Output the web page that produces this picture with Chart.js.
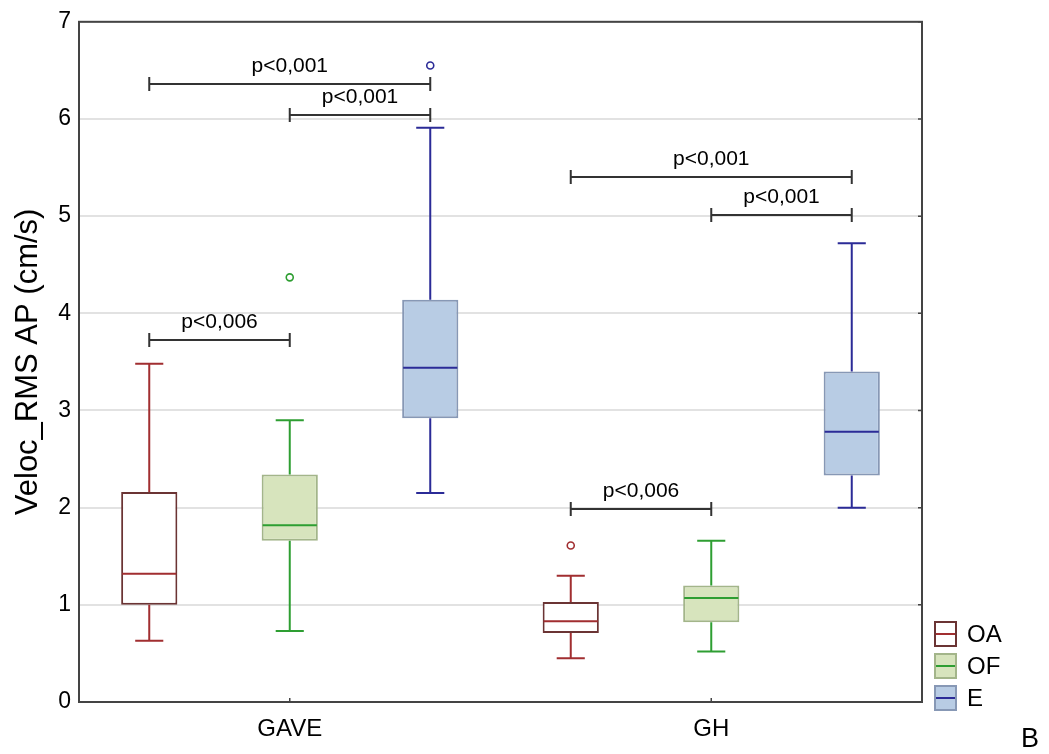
<!DOCTYPE html>
<html>
<head>
<meta charset="utf-8">
<script src="https://cdn.jsdelivr.net/npm/chart.js@4.4.1/dist/chart.umd.min.js"></script>
<style>
  html, body { margin: 0; padding: 0; background: #fff; }
  #wrap { width: 1049px; height: 754px; position: relative; }
</style>
</head>
<body>
<div id="wrap"><canvas id="boxChart"></canvas></div>
<script>
// categories and series
const groups = ['GAVE', 'GH'];
const seriesNames = ['OA', 'OF', 'E'];

// box statistics, one row per series, one value per group
const q1Values = [[1.00, 0.71], [1.66, 0.82], [2.92, 2.33]];
const medianValues = [[1.32, 0.83], [1.82, 1.07], [3.44, 2.78]];
const q3Values = [[2.16, 1.03], [2.34, 1.20], [4.14, 3.40]];
const lowWhisker = [[0.63, 0.45], [0.73, 0.52], [2.15, 2.00]];
const highWhisker = [[3.48, 1.30], [2.90, 1.66], [5.91, 4.72]];
const outlierValues = [[[], [1.61]], [[4.37], []], [[6.55], []]];

// significance brackets
const bracketGroup = [0, 0, 0, 1, 1, 1];
const bracketFrom = [0, 1, 0, 0, 1, 0];
const bracketTo = [2, 2, 1, 2, 2, 1];
const bracketLevel = [6.36, 6.04, 3.73, 5.40, 5.01, 1.99];
const bracketLabel = ['p<0,001', 'p<0,001', 'p<0,006', 'p<0,001', 'p<0,001', 'p<0,006'];

const yTicks = [0, 1, 2, 3, 4, 5, 6, 7];

const FONT = "'Liberation Sans', Arial, sans-serif";
const fills = ['#ffffff', '#d7e4bd', '#b8cce4'];
const boxEdges = ['#6b3434', '#a3b58a', '#8798b5'];
const lineColors = ['#a12e30', '#2e9e32', '#2b2b97'];

const boxPlugin = {
    id: 'boxExtras',
    afterDatasetsDraw(chart) {
        const ctx = chart.ctx;
        const y = chart.scales.y;
        ctx.save();
        seriesNames.forEach((name, s) => {
            const meta = chart.getDatasetMeta(s);
            meta.data.forEach((bar, g) => {
                const cx = bar.x;
                const w = bar.width;
                ctx.strokeStyle = lineColors[s];
                ctx.lineWidth = 2;
                ctx.beginPath();
                // whiskers
                ctx.moveTo(cx, y.getPixelForValue(q3Values[s][g]));
                ctx.lineTo(cx, y.getPixelForValue(highWhisker[s][g]));
                ctx.moveTo(cx, y.getPixelForValue(q1Values[s][g]));
                ctx.lineTo(cx, y.getPixelForValue(lowWhisker[s][g]));
                // caps
                ctx.moveTo(cx - w / 4, y.getPixelForValue(highWhisker[s][g]));
                ctx.lineTo(cx + w / 4, y.getPixelForValue(highWhisker[s][g]));
                ctx.moveTo(cx - w / 4, y.getPixelForValue(lowWhisker[s][g]));
                ctx.lineTo(cx + w / 4, y.getPixelForValue(lowWhisker[s][g]));
                // median
                ctx.moveTo(cx - w / 2 + 1, y.getPixelForValue(medianValues[s][g]));
                ctx.lineTo(cx + w / 2 - 1, y.getPixelForValue(medianValues[s][g]));
                ctx.stroke();
                // outliers
                outlierValues[s][g].forEach(v => {
                    ctx.beginPath();
                    ctx.arc(cx, y.getPixelForValue(v), 3.5, 0, Math.PI * 2);
                    ctx.lineWidth = 1.6;
                    ctx.stroke();
                });
            });
        });

        // brackets
        ctx.strokeStyle = '#333333';
        ctx.fillStyle = '#000000';
        ctx.font = '21px ' + FONT;
        ctx.textAlign = 'center';
        ctx.textBaseline = 'middle';
        bracketLabel.forEach((label, i) => {
            const a = chart.getDatasetMeta(bracketFrom[i]).data[bracketGroup[i]].x;
            const b = chart.getDatasetMeta(bracketTo[i]).data[bracketGroup[i]].x;
            const py = Math.round(y.getPixelForValue(bracketLevel[i]));
            ctx.lineWidth = 2;
            ctx.beginPath();
            ctx.moveTo(a, py);
            ctx.lineTo(b, py);
            ctx.moveTo(a, py - 7);
            ctx.lineTo(a, py + 7);
            ctx.moveTo(b, py - 7);
            ctx.lineTo(b, py + 7);
            ctx.stroke();
            ctx.fillText(label, (a + b) / 2, py - 18);
        });
        ctx.restore();
    },
    afterDraw(chart) {
        const ctx = chart.ctx;
        const area = chart.chartArea;
        const x = chart.scales.x;
        const y = chart.scales.y;
        ctx.save();
        // frame
        ctx.strokeStyle = '#444444';
        ctx.lineWidth = 2;
        ctx.strokeRect(area.left, area.top, area.right - area.left, area.bottom - area.top);
        // inner ticks
        ctx.lineWidth = 1.5;
        ctx.beginPath();
        yTicks.forEach(v => {
            const py = y.getPixelForValue(v);
            ctx.moveTo(area.right - 4, py);
            ctx.lineTo(area.right, py);
        });
        groups.forEach((g, i) => {
            const px = x.getPixelForValue(i);
            ctx.moveTo(px, area.bottom - 4);
            ctx.lineTo(px, area.bottom);
        });
        ctx.stroke();

        // legend
        ctx.font = '24px ' + FONT;
        ctx.textAlign = 'left';
        ctx.textBaseline = 'middle';
        seriesNames.forEach((name, s) => {
            const top = 622 + s * 32;
            ctx.fillStyle = fills[s];
            ctx.fillRect(935, top, 21, 24);
            ctx.strokeStyle = boxEdges[s];
            ctx.lineWidth = 2;
            ctx.strokeRect(935, top, 21, 24);
            ctx.strokeStyle = lineColors[s];
            ctx.beginPath();
            ctx.moveTo(936, top + 12);
            ctx.lineTo(955, top + 12);
            ctx.stroke();
            ctx.fillStyle = '#000';
            ctx.fillText(name, 967, top + 13);
        });

        ctx.font = '27px ' + FONT;
        ctx.fillText('B', 1021, 740);
        ctx.restore();
    }
};

const datasets = seriesNames.map((name, s) => ({
    label: name,
    data: groups.map((g, i) => [q1Values[s][i], q3Values[s][i]]),
    backgroundColor: fills[s],
    borderColor: boxEdges[s],
    borderWidth: 2,
    borderSkipped: false,
    categoryPercentage: 1.0,
    barPercentage: 0.4
}));

new Chart(document.getElementById('boxChart'), {
    type: 'bar',
    data: { labels: groups, datasets: datasets },
    options: {
        responsive: true,
        maintainAspectRatio: false,
        animation: false,
        layout: { padding: { top: 17, right: 127, left: 0, bottom: 0 } },
        plugins: {
            legend: { display: false },
            tooltip: { enabled: false }
        },
        scales: {
            x: {
                grid: { display: false },
                border: { display: false },
                ticks: { color: '#000', font: { family: FONT, size: 24 }, padding: 5 },
                afterFit(scale) { scale.height = 52; }
            },
            y: {
                min: 0,
                max: 7,
                ticks: {
                    stepSize: 1,
                    color: '#000',
                    font: { family: FONT, size: 23 },
                    padding: 8
                },
                grid: { color: '#e2e2e2', lineWidth: 2, drawTicks: false },
                border: { display: false },
                title: {
                    display: true,
                    text: 'Veloc_RMS AP (cm/s)',
                    color: '#000',
                    font: { family: FONT, size: 31 },
                    padding: { top: 10, bottom: 0 }
                },
                afterFit(scale) { scale.width = 79; }
            }
        }
    },
    plugins: [boxPlugin]
});
</script>
</body>
</html>
